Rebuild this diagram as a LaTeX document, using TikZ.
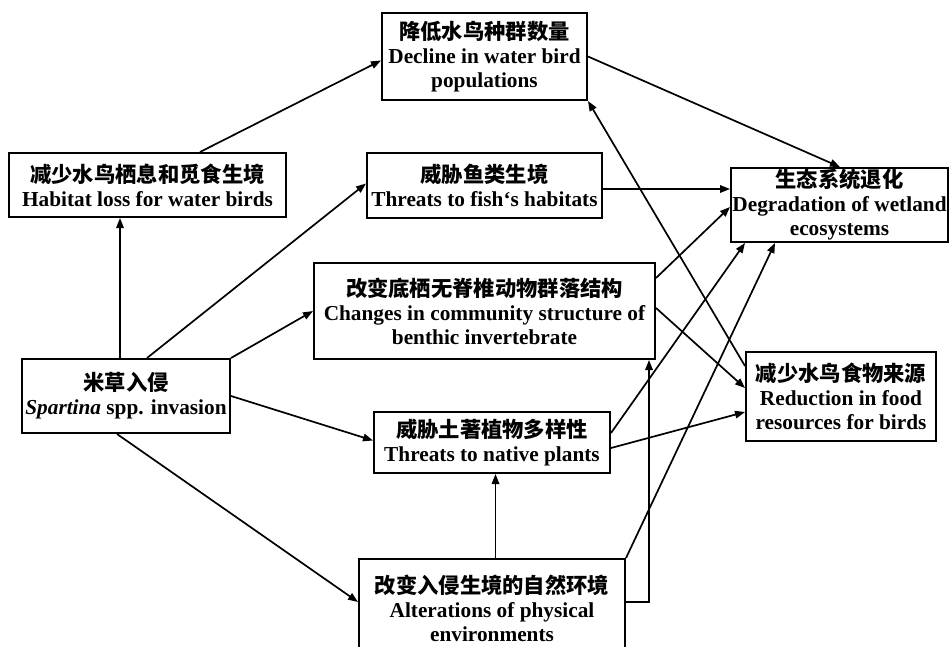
\documentclass[tikz,border=0pt]{standalone}
\usepackage{fontspec}
\setmainfont{Liberation Serif}
\newfontfamily\cjk{Noto Sans CJK SC Bold}
\usetikzlibrary{arrows.meta}
\begin{document}
\begin{tikzpicture}[x=1pt,y=-1pt,
  box/.style={draw, fill=white, line width=2pt, align=center, inner sep=0pt,
    font=\fontsize{21.3}{24}\selectfont\bfseries},
  arr/.style={line width=1.7pt, -{Triangle[length=10pt,width=7.5pt]}}]
\useasboundingbox (0,0) rectangle (950,647);

\node[box, minimum width=205pt, minimum height=87pt] (decl) at (484.5,56.5)
  {{\cjk 降低水鸟种群数量}\\Decline in water bird\\populations};
\node[box, minimum width=277pt, minimum height=64pt] (hab) at (147.5,185)
  {{\cjk 减少水鸟栖息和觅食生境}\\Habitat loss for water birds};
\node[box, minimum width=235pt, minimum height=65pt] (fish) at (484.5,185.5)
  {{\cjk 威胁鱼类生境}\\Threats to fish‘s habitats};
\node[box, minimum width=217pt, minimum height=74pt] (degr) at (839.5,205)
  {{\cjk 生态系统退化}\\Degradation of wetland\\ecosystems};
\node[box, minimum width=341pt, minimum height=96pt] (chg) at (484.5,311)
  {{\cjk 改变底栖无脊椎动物群落结构}\\Changes in community structure of\\benthic invertebrate};
\node[box, minimum width=208pt, minimum height=74pt] (spa) at (126,396)
  {{\cjk 米草入侵}\\\textit{Spartina} spp. invasion};
\node[box, minimum width=236pt, minimum height=61pt] (nat) at (492,442.5)
  {{\cjk 威胁土著植物多样性}\\Threats to native plants};
\node[box, minimum width=190pt, minimum height=89pt] (red) at (841,396.5)
  {{\cjk 减少水鸟食物来源}\\Reduction in food\\resources for birds};
\node[box, minimum width=266pt, minimum height=98pt] (alt) at (492,608)
  {{\cjk 改变入侵生境的自然环境}\\Alterations of physical\\environments};

\draw[arr] ([xshift=52.5pt]hab.north) -- ([yshift=-4pt]decl.west);
\draw[arr] (decl.east) -- ([xshift=0.5pt]degr.north);
\draw[arr] ([yshift=30.5pt]red.west) -- (decl.south east);
\draw[arr] ([xshift=-6pt]spa.north) -- ([xshift=-6pt]spa.north |- hab.south);
\draw[arr] ([xshift=21pt]spa.north) -- ([yshift=2pt]fish.west);
\draw[arr] (spa.north east) -- (chg.west);
\draw[arr] (spa.east) -- ([yshift=2pt]nat.west);
\draw[arr] ([xshift=-9pt]spa.south) -- ([yshift=6pt]alt.west);
\draw[arr] ([yshift=-3.5pt]fish.east) -- ([yshift=-3.5pt]fish.east -| degr.west);
\draw[arr] ([yshift=33pt]chg.east) -- ([yshift=-2pt]degr.west);
\draw[arr] ([yshift=3pt]chg.east) -- ([yshift=8.5pt]red.west);
\draw[arr] ([yshift=9.5pt]nat.east) -- ([xshift=-94.5pt]degr.south);
\draw[arr] ([yshift=-5.5pt]nat.east) -- ([yshift=-15.5pt]red.west);
\draw[arr] ([xshift=3.5pt]alt.north) -- ([xshift=3.5pt]nat.south);
\draw[arr] (alt.north east) -- ([xshift=-64.5pt]degr.south);
\draw[arr] ([yshift=6pt]alt.east) -| ([xshift=-7pt]chg.south east);
\end{tikzpicture}
\end{document}
